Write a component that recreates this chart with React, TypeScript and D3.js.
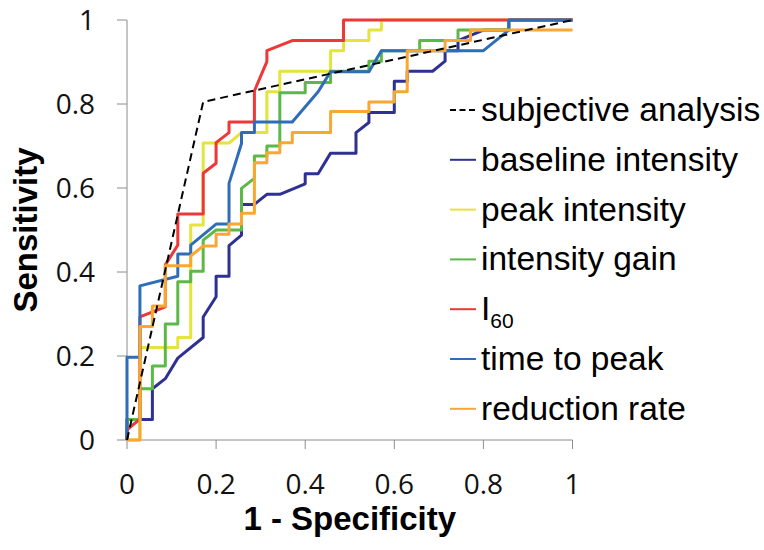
import React from "react";
import * as d3 from "d3";

type Pt = [number, number];

// ROC curves: [1 - specificity, sensitivity]
const subjective: Pt[] = [[0, 0], [0.171, 0.805], [1, 1]];

const baseline: Pt[] = [
  [0, 0], [0, 0.049], [0.057, 0.049], [0.057, 0.122], [0.086, 0.146], [0.114, 0.195],
  [0.171, 0.244], [0.171, 0.293], [0.2, 0.341], [0.2, 0.39], [0.229, 0.39], [0.229, 0.463],
  [0.257, 0.488], [0.257, 0.561], [0.286, 0.561], [0.314, 0.585], [0.343, 0.585], [0.4, 0.61],
  [0.4, 0.634], [0.429, 0.634], [0.457, 0.683], [0.514, 0.683], [0.514, 0.732], [0.543, 0.756],
  [0.543, 0.78], [0.6, 0.78], [0.6, 0.854], [0.629, 0.854], [0.629, 0.878], [0.686, 0.878],
  [0.714, 0.902], [0.714, 0.927], [0.743, 0.927], [0.743, 0.951], [0.8, 0.976], [0.857, 0.976],
  [0.857, 1], [1, 1],
];

const peak: Pt[] = [
  [0, 0], [0.029, 0], [0.029, 0.22], [0.114, 0.22], [0.114, 0.244], [0.143, 0.244],
  [0.143, 0.512], [0.171, 0.512], [0.171, 0.707], [0.229, 0.707], [0.257, 0.732], [0.314, 0.732],
  [0.314, 0.829], [0.343, 0.829], [0.343, 0.878], [0.457, 0.878], [0.457, 0.927], [0.486, 0.927],
  [0.486, 0.951], [0.543, 0.951], [0.543, 0.976], [0.571, 0.976], [0.571, 1], [1, 1],
];

const gain: Pt[] = [
  [0, 0], [0, 0.049], [0.029, 0.049], [0.029, 0.122], [0.057, 0.122], [0.057, 0.176],
  [0.086, 0.176], [0.086, 0.276], [0.114, 0.276], [0.114, 0.377], [0.143, 0.377], [0.143, 0.402],
  [0.171, 0.402], [0.171, 0.476], [0.2, 0.5], [0.257, 0.5], [0.257, 0.599], [0.286, 0.623],
  [0.286, 0.676], [0.314, 0.676], [0.314, 0.7], [0.343, 0.7], [0.343, 0.827], [0.4, 0.827],
  [0.4, 0.851], [0.457, 0.851], [0.457, 0.878], [0.543, 0.878], [0.543, 0.902], [0.571, 0.902],
  [0.571, 0.927], [0.657, 0.927], [0.657, 0.951], [0.743, 0.951], [0.743, 0.976], [0.857, 0.976],
  [0.857, 1], [1, 1],
];

const i60: Pt[] = [
  [0, 0], [0, 0.024], [0.029, 0.05], [0.029, 0.293], [0.086, 0.317], [0.086, 0.417],
  [0.114, 0.464], [0.114, 0.538], [0.171, 0.538], [0.171, 0.635], [0.2, 0.659], [0.2, 0.708],
  [0.229, 0.732], [0.229, 0.757], [0.286, 0.757], [0.286, 0.831], [0.314, 0.901], [0.314, 0.927],
  [0.371, 0.951], [0.486, 0.951], [0.486, 1], [1, 1],
];

const timeToPeak: Pt[] = [
  [0, 0], [0, 0.197], [0.029, 0.197], [0.029, 0.367], [0.114, 0.39], [0.114, 0.443],
  [0.143, 0.443], [0.143, 0.464], [0.2, 0.514], [0.229, 0.514], [0.229, 0.611], [0.257, 0.706],
  [0.257, 0.732], [0.286, 0.732], [0.286, 0.757], [0.371, 0.757], [0.429, 0.829], [0.457, 0.877],
  [0.543, 0.877], [0.571, 0.927], [0.8, 0.927], [0.857, 0.976], [0.857, 1], [1, 1],
];

const reduction: Pt[] = [
  [0, 0], [0.029, 0], [0.029, 0.27], [0.057, 0.27], [0.057, 0.319], [0.086, 0.319],
  [0.086, 0.415], [0.143, 0.415], [0.143, 0.438], [0.171, 0.462], [0.2, 0.462], [0.2, 0.49],
  [0.229, 0.49], [0.229, 0.514], [0.257, 0.514], [0.257, 0.54], [0.286, 0.54], [0.286, 0.66],
  [0.314, 0.66], [0.314, 0.684], [0.343, 0.684], [0.343, 0.708], [0.371, 0.708], [0.371, 0.732],
  [0.457, 0.732], [0.457, 0.782], [0.543, 0.782], [0.543, 0.805], [0.6, 0.805], [0.6, 0.829],
  [0.629, 0.829], [0.629, 0.927], [0.714, 0.927], [0.714, 0.951], [0.771, 0.951], [0.771, 0.976],
  [1, 0.976],
];

const xTicks = [0, 0.2, 0.4, 0.6, 0.8, 1];
const yTicks = [0, 0.2, 0.4, 0.6, 0.8, 1];

const series = [
  { name: "subjective analysis", color: "#000000", dashed: true, values: subjective },
  { name: "baseline intensity", color: "#2E3192", dashed: false, values: baseline },
  { name: "peak intensity", color: "#E4E43A", dashed: false, values: peak },
  { name: "intensity gain", color: "#5CB947", dashed: false, values: gain },
  { name: "I60", color: "#EE3838", dashed: false, values: i60 },
  { name: "time to peak", color: "#2F6DB8", dashed: false, values: timeToPeak },
  { name: "reduction rate", color: "#F8A832", dashed: false, values: reduction },
];

const W = 764;
const H = 550;
const margin = { left: 127, right: 191.5, top: 20, bottom: 110 };

export default function App() {
  const x = d3.scaleLinear().domain([0, 1]).range([margin.left, W - margin.right]);
  const y = d3.scaleLinear().domain([0, 1]).range([H - margin.bottom, margin.top]);
  const line = d3
    .line<Pt>()
    .x((d) => x(d[0]))
    .y((d) => y(d[1]));

  // dashed series sits on top in the original
  const drawOrder = [...series.slice(1), series[0]];
  const axisColor = "#8c8c8c";
  const tickFont = "'Open Sans', sans-serif";
  const textFont = "'Liberation Sans', Arial, sans-serif";

  return (
    <svg
      width={W}
      height={H}
      style={{ position: "absolute", left: 0, top: 0, background: "#fff" }}
    >
      {/* axes */}
      <line x1={x(0)} x2={x(0)} y1={y(0)} y2={y(1)} stroke={axisColor} strokeWidth={1} />
      <line x1={x(0)} x2={x(1)} y1={y(0)} y2={y(0)} stroke={axisColor} strokeWidth={1} />
      {yTicks.map((t) => (
        <g key={"y" + t}>
          <line x1={x(0) - 10} x2={x(0)} y1={y(t)} y2={y(t)} stroke={axisColor} />
          <text
            x={95}
            y={y(t)}
            dy="0.36em"
            textAnchor="end"
            fontFamily={tickFont}
            fontSize={28}
            fill="#111"
          >
            {t}
          </text>
        </g>
      ))}
      {xTicks.map((t) => (
        <g key={"x" + t}>
          <line x1={x(t)} x2={x(t)} y1={y(0)} y2={y(0) + 9} stroke={axisColor} />
          <text
            x={x(t)}
            y={494}
            textAnchor="middle"
            fontFamily={tickFont}
            fontSize={28}
            fill="#111"
          >
            {t}
          </text>
        </g>
      ))}

      {/* curves */}
      {drawOrder.map((s) => (
        <path
          key={s.name}
          d={line(s.values) || ""}
          fill="none"
          stroke={s.color}
          strokeWidth={s.dashed ? 2 : 3}
          strokeDasharray={s.dashed ? "8,5" : undefined}
          strokeLinejoin="round"
        />
      ))}

      {/* axis titles */}
      <text
        x={(x(0) + x(1)) / 2}
        y={530}
        textAnchor="middle"
        fontFamily={textFont}
        fontWeight="bold"
        fontSize={33}
        fill="#000"
      >
        1 - Specificity
      </text>
      <text
        transform={`translate(37, ${(y(0) + y(1)) / 2}) rotate(-90)`}
        textAnchor="middle"
        fontFamily={textFont}
        fontWeight="bold"
        fontSize={33}
        fill="#000"
      >
        Sensitivity
      </text>

      {/* legend */}
      {series.map((s, i) => {
        const ty = 121 + i * 49.8;
        return (
          <g key={"lg" + s.name}>
            <line
              x1={450}
              x2={476}
              y1={ty - 11}
              y2={ty - 11}
              stroke={s.color}
              strokeWidth={2}
              strokeDasharray={s.dashed ? "6,3.5" : undefined}
            />
            <text x={481} y={ty} fontFamily={textFont} fontSize={33.5} fill="#000">
              {s.name === "I60" ? (
                <>
                  <tspan>I</tspan>
                  <tspan fontSize={21} dy={8}>60</tspan>
                </>
              ) : (
                s.name
              )}
            </text>
          </g>
        );
      })}
    </svg>
  );
}
